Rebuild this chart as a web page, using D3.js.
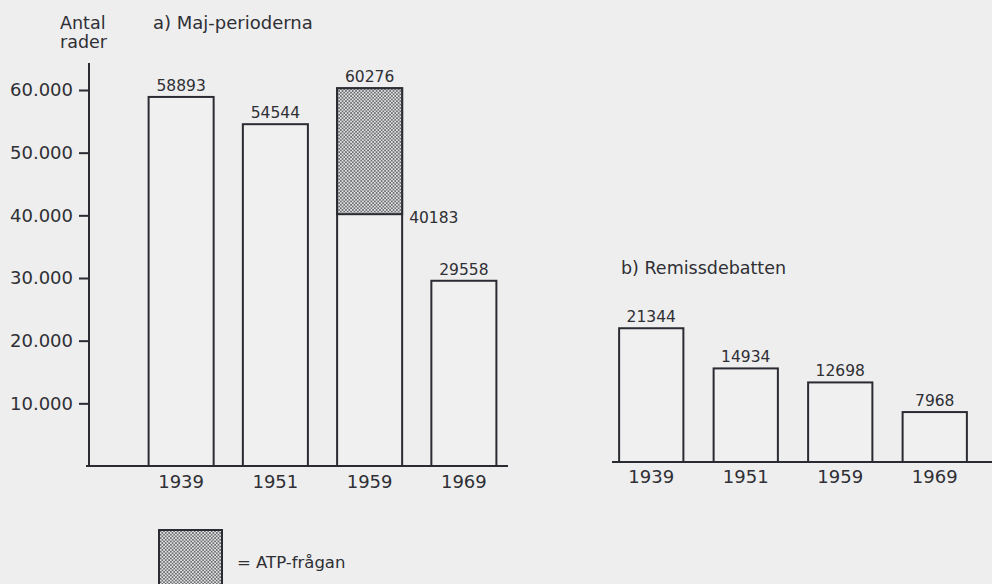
<!DOCTYPE html>
<html>
<head>
<meta charset="utf-8">
<script src="https://cdn.jsdelivr.net/npm/d3@7"></script>
<style>
  html, body { margin: 0; padding: 0; background: #edeeed; }
  svg { display: block; }
  text { font-family: "DejaVu Sans", sans-serif; fill: #2f2f35; }
</style>
</head>
<body>
<svg id="chart" width="992" height="584"></svg>
<script>
// ---- data ----
const years = ["1939", "1951", "1959", "1969"];
const majTotal = [58893, 54544, 60276, 29558];
const majAtpBase = [null, null, 40183, null];   // part below ATP-frågan in 1959
const remiss = [21344, 14934, 12698, 7968];
const yTicks = [10000, 20000, 30000, 40000, 50000, 60000];
const titleA = "a) Maj-perioderna";
const titleB = "b) Remissdebatten";
const yTitle = ["Antal", "rader"];
const legendLabel = "= ATP-frågan";

const W = 992, H = 584;
const ink = "#2b2b33";
const svg = d3.select("#chart");

// stipple pattern
const defs = svg.append("defs");
const pat = defs.append("pattern").attr("id", "dots")
  .attr("patternUnits", "userSpaceOnUse").attr("width", 3.4).attr("height", 3.4);
pat.append("rect").attr("width", 3.4).attr("height", 3.4).attr("fill", "#e2e3e2");
pat.append("circle").attr("cx", 0.85).attr("cy", 0.85).attr("r", 0.8).attr("fill", "#3a3a40");
pat.append("circle").attr("cx", 2.55).attr("cy", 2.55).attr("r", 0.8).attr("fill", "#3a3a40");

const nl = d3.formatLocale({thousands: ".", grouping: [3], decimal: ",", currency: ["", ""]});
const fmtTick = nl.format(",");

// ---- panel a ----
const baseA = 466;
const yA = d3.scaleLinear().domain([0, 60000]).range([baseA, 90]);
const xA = d3.scaleBand().domain(years).range([134, 511]).paddingInner(0.31).paddingOuter(0.155);

const axisX = 89;
const gAxis = svg.append("g").attr("transform", `translate(${axisX},0)`)
  .call(d3.axisLeft(yA).tickValues(yTicks).tickFormat(fmtTick).tickSize(10).tickPadding(6));
gAxis.select(".domain").remove();
gAxis.selectAll(".tick line").attr("stroke", ink).attr("stroke-width", 2);
gAxis.selectAll(".tick text").attr("font-size", 18).attr("font-family", "DejaVu Sans").attr("fill", "#2f2f35");

svg.append("line").attr("x1", axisX).attr("x2", axisX).attr("y1", 63).attr("y2", baseA + 1)
  .attr("stroke", ink).attr("stroke-width", 2);
svg.append("line").attr("x1", 86).attr("x2", 508).attr("y1", baseA).attr("y2", baseA)
  .attr("stroke", ink).attr("stroke-width", 2);

const barsA = years.map((y, i) => ({year: y, total: majTotal[i], base: majAtpBase[i]}));
const gA = svg.append("g");
gA.selectAll("rect.bar").data(barsA).join("rect").attr("class", "bar")
  .attr("x", d => xA(d.year)).attr("width", xA.bandwidth())
  .attr("y", d => yA(d.total)).attr("height", d => baseA - yA(d.total))
  .attr("fill", "#eff0ef").attr("stroke", ink).attr("stroke-width", 2);
gA.selectAll("rect.atp").data(barsA.filter(d => d.base != null)).join("rect").attr("class", "atp")
  .attr("x", d => xA(d.year)).attr("width", xA.bandwidth())
  .attr("y", d => yA(d.total)).attr("height", d => yA(d.base) - yA(d.total))
  .attr("fill", "url(#dots)").attr("stroke", ink).attr("stroke-width", 2);
gA.selectAll("text.val").data(barsA).join("text").attr("class", "val")
  .attr("x", d => xA(d.year) + xA.bandwidth() / 2).attr("y", d => yA(d.total) - 6)
  .attr("text-anchor", "middle").attr("font-size", 15.5).text(d => d.total);
gA.selectAll("text.base").data(barsA.filter(d => d.base != null)).join("text").attr("class", "base")
  .attr("x", d => xA(d.year) + xA.bandwidth() + 7).attr("y", d => yA(d.base) + 9)
  .attr("font-size", 15.5).text(d => d.base);
gA.selectAll("text.yr").data(years).join("text").attr("class", "yr")
  .attr("x", d => xA(d) + xA.bandwidth() / 2).attr("y", 488)
  .attr("text-anchor", "middle").attr("font-size", 18).text(d => d);

svg.append("text").attr("x", 60).attr("y", 29).attr("font-size", 17.5).text(yTitle[0]);
svg.append("text").attr("x", 60).attr("y", 48).attr("font-size", 17.5).text(yTitle[1]);
svg.append("text").attr("x", 153).attr("y", 29).attr("font-size", 18).text(titleA);

// ---- panel b ----
const baseB = 462;
const yB = d3.scaleLinear().domain([0, 60000]).range([baseB, baseB - (baseA - 90)]);
const xB = d3.scaleBand().domain(years).range([604, 982]).paddingInner(0.32).paddingOuter(0.16);

svg.append("line").attr("x1", 612).attr("x2", W).attr("y1", baseB).attr("y2", baseB)
  .attr("stroke", ink).attr("stroke-width", 2);
const barsB = years.map((y, i) => ({year: y, v: remiss[i]}));
const gB = svg.append("g");
gB.selectAll("rect").data(barsB).join("rect")
  .attr("x", d => xB(d.year)).attr("width", xB.bandwidth())
  .attr("y", d => yB(d.v)).attr("height", d => baseB - yB(d.v))
  .attr("fill", "#eff0ef").attr("stroke", ink).attr("stroke-width", 2);
gB.selectAll("text.val").data(barsB).join("text").attr("class", "val")
  .attr("x", d => xB(d.year) + xB.bandwidth() / 2).attr("y", d => yB(d.v) - 6)
  .attr("text-anchor", "middle").attr("font-size", 15.5).text(d => d.v);
gB.selectAll("text.yr").data(years).join("text").attr("class", "yr")
  .attr("x", d => xB(d) + xB.bandwidth() / 2).attr("y", 483)
  .attr("text-anchor", "middle").attr("font-size", 18).text(d => d);
svg.append("text").attr("x", 621).attr("y", 274).attr("font-size", 17.5).text(titleB);

// ---- legend ----
svg.append("rect").attr("x", 159).attr("y", 530).attr("width", 63).attr("height", 62)
  .attr("fill", "url(#dots)").attr("stroke", ink).attr("stroke-width", 2);
svg.append("text").attr("x", 237).attr("y", 568).attr("font-size", 16.5).text(legendLabel);
</script>
</body>
</html>
